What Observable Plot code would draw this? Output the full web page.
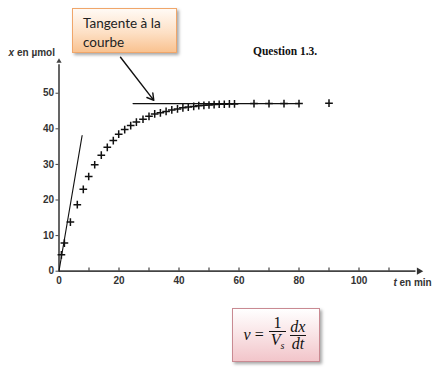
<!DOCTYPE html>
<html>
<head>
<meta charset="utf-8">
<script src="https://cdn.jsdelivr.net/npm/d3@7"></script>
<script src="https://cdn.jsdelivr.net/npm/@observablehq/plot@0.6"></script>
<style>
  body { margin: 0; background: #fff; }
  #wrap { position: relative; width: 436px; height: 371px; overflow: hidden; background: #fff; }
  #wrap svg { position: absolute; left: 0; top: 0; }
  .note {
    position: absolute; left: 72px; top: 8px; width: 105px; height: 45px; box-sizing: border-box;
    border: 1px solid #f0a66a;
    background: linear-gradient(to bottom, #fffaf5 0%, #fde0c5 55%, #f9c290 100%);
    box-shadow: 2px 2px 3px rgba(0,0,0,0.35);
    font-family: Lato, "Open Sans", sans-serif; font-size: 13.5px; color: #222;
    padding: 5px 0 0 10px; line-height: 19px;
  }
  .question {
    position: absolute; left: 253px; top: 45px;
    font-family: "Liberation Serif", "Times New Roman", serif; font-weight: bold; font-size: 11.5px; color: #111;
  }
  .formula {
    position: absolute; left: 232px; top: 308px; width: 88px; height: 54px; box-sizing: border-box;
    border: 1px solid #c98a92;
    background: linear-gradient(to bottom, #ffffff 0%, #f9e3e5 50%, #f2c5ca 100%);
    box-shadow: 2px 2px 3px rgba(0,0,0,0.35);
    display: flex; align-items: center; justify-content: center;
    font-family: "Liberation Serif", "DejaVu Serif", serif; font-style: italic; font-size: 16px; color: #111;
  }
  .formula .op { font-style: normal; margin: 0 4px; }
  .frac { display: inline-flex; flex-direction: column; align-items: center; line-height: 16px; margin: 0 1px; }
  .frac .num { padding: 0 2px; font-style: normal; }
  .frac .num.it { font-style: italic; }
  .frac .den { border-top: 1px solid #111; padding: 0 2px; }
  .frac sub { font-size: 10px; }
</style>
</head>
<body>
<div id="wrap"></div>
<script>
// Time (min) and amount x (µmol)
const times = [0.8, 1.8, 3.8, 6.1, 8.1, 9.9, 11.9, 14.1, 16.1, 18.1, 19.9, 21.9, 23.9, 25.8, 28, 30,
  31.9, 33.8, 35.7, 37.6, 39.5, 41.3, 43.1, 44.9, 46.6, 48.3, 50, 51.7, 53.4, 55.1, 56.8, 58.5,
  65, 70, 75, 80, 90];
const amounts = [4.6, 7.9, 13.8, 18.7, 23.0, 26.6, 29.9, 32.6, 34.8, 36.7, 38.5, 39.8, 40.9, 41.9, 42.7, 43.5,
  44.2, 44.5, 44.9, 45.3, 45.6, 45.9, 46.1, 46.3, 46.5, 46.6, 46.7, 46.8, 46.9, 46.9, 47.0, 47.0,
  47.1, 47.1, 47.1, 47.1, 47.2];

// Tangent lines
const tangentStartT = [0, 7.7];
const tangentStartX = [0, 38.1];
const tangentEndT = [24.7, 80];
const tangentEndX = [47.1, 47.1];

// Annotation arrow (from the callout to the horizontal tangent)
const arrowFrom = { t: 20.5, x: 60.1 };
const arrowTo = { t: 31.6, x: 48.0 };

const xTickLabels = [0, 20, 40, 60, 80, 100];
const xMinorTicks = [10, 20, 30, 40, 50, 60, 70, 80, 90, 100, 110];
const yTickLabels = [0, 10, 20, 30, 40, 50];

const points = times.map((t, i) => ({ t, x: amounts[i] }));
const tan1 = tangentStartT.map((t, i) => ({ t, x: tangentStartX[i] }));
const tan2 = tangentEndT.map((t, i) => ({ t, x: tangentEndX[i] }));

const labelFont = { fontFamily: "Liberation Sans, Arial, sans-serif", fontWeight: "bold", fontSize: 10, fill: "#333" };

const chart = Plot.plot({
  width: 436,
  height: 371,
  marginLeft: 58.5,
  marginRight: 17.5,
  marginTop: 60.7,
  marginBottom: 100.3,
  style: { fontFamily: "Liberation Sans, Arial, sans-serif", background: "transparent" },
  x: { domain: [0, 120] },
  y: { domain: [0, 59] },
  marks: [
    // axes lines
    Plot.ruleY([0], { x1: 0, x2: 119, stroke: "#444", strokeWidth: 1.8 }),
    Plot.ruleX([0], { y1: 0, y2: 58, stroke: "#555", strokeWidth: 1.8 }),
    Plot.dot([{ t: 120, x: 0 }], { x: "t", y: "x", symbol: "triangle2", rotate: 90, r: 3.5, fill: "#333" }),
    Plot.dot([{ t: 0, x: 59 }], { x: "t", y: "x", symbol: "triangle2", r: 2.5, fill: "#444" }),
    Plot.ruleX(xMinorTicks, { x: d => d, y1: 0, y2: 0.9, stroke: "#444", strokeWidth: 1.2 }),
    Plot.axisX({ ticks: xTickLabels, tickSize: 0, tickPadding: 6, label: null, ...labelFont }),
    Plot.axisY({ ticks: yTickLabels, tickSize: 3, tickPadding: 2, label: null, stroke: "#444", ...labelFont }),
    // axis titles
    Plot.text(["x"], { x: 0, y: 59, dx: -50.5, dy: -8, text: d => d, textAnchor: "start", fontStyle: "italic", ...labelFont }),
    Plot.text(["en µmol"], { x: 0, y: 59, dx: -42, dy: -8, text: d => d, textAnchor: "start", ...labelFont }),
    Plot.text(["t"], { x: 111.5, y: 0, dy: 12, text: d => d, textAnchor: "start", fontStyle: "italic", ...labelFont }),
    Plot.text(["en min"], { x: 111.5, y: 0, dx: 6, dy: 12, text: d => d, textAnchor: "start", ...labelFont }),
    // tangents
    Plot.line(tan1, { x: "t", y: "x", stroke: "#111", strokeWidth: 1.1 }),
    Plot.line(tan2, { x: "t", y: "x", stroke: "#111", strokeWidth: 1.3 }),
    // data
    Plot.dot(points, { x: "t", y: "x", symbol: "plus", r: 2.6, stroke: "#111", strokeWidth: 1.5 }),
    // annotation arrow
    Plot.arrow([{ a: arrowFrom, b: arrowTo }], {
      x1: d => d.a.t, y1: d => d.a.x, x2: d => d.b.t, y2: d => d.b.x,
      stroke: "#111", strokeWidth: 1.4, headLength: 8
    })
  ]
});

const wrap = document.getElementById("wrap");
wrap.appendChild(chart);

const note = document.createElement("div");
note.className = "note";
note.innerHTML = "Tangente à la<br>courbe";
wrap.appendChild(note);

const q = document.createElement("div");
q.className = "question";
q.textContent = "Question 1.3.";
wrap.appendChild(q);

const f = document.createElement("div");
f.className = "formula";
f.innerHTML = '<span>v</span><span class="op">=</span>' +
  '<span class="frac"><span class="num">1</span><span class="den">V<sub>s</sub></span></span>' +
  '<span class="frac"><span class="num it">dx</span><span class="den">dt</span></span>';
wrap.appendChild(f);
</script>
</body>
</html>
